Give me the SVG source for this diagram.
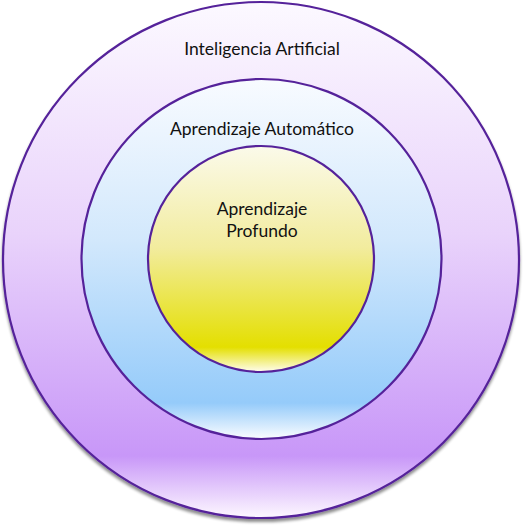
<svg xmlns="http://www.w3.org/2000/svg" width="527" height="527" viewBox="0 0 527 527">
  <defs>
    <linearGradient id="gOuter" x1="0" y1="0" x2="0" y2="1">
      <stop offset="0" stop-color="#fcf9ff"/>
      <stop offset="0.45" stop-color="#e9d3fb"/>
      <stop offset="0.88" stop-color="#c897f8"/>
      <stop offset="1" stop-color="#fdf8ff"/>
    </linearGradient>
    <linearGradient id="gMid" x1="0" y1="0" x2="0" y2="1">
      <stop offset="0" stop-color="#f8fbff"/>
      <stop offset="0.45" stop-color="#d2e8fc"/>
      <stop offset="0.9" stop-color="#95cbfa"/>
      <stop offset="1" stop-color="#fbfdff"/>
    </linearGradient>
    <linearGradient id="gIn" x1="0" y1="0" x2="0" y2="1">
      <stop offset="0" stop-color="#fbfaea"/>
      <stop offset="0.45" stop-color="#f2ec9e"/>
      <stop offset="0.89" stop-color="#e4df00"/>
      <stop offset="1" stop-color="#fffdf0"/>
    </linearGradient>
    <filter id="sh" x="-5%" y="-5%" width="110%" height="115%">
      <feGaussianBlur in="SourceAlpha" stdDeviation="1.5"/>
      <feOffset dy="2.5" result="b"/>
      <feComponentTransfer><feFuncA type="linear" slope="0.45"/></feComponentTransfer>
      <feMerge><feMergeNode/><feMergeNode in="SourceGraphic"/></feMerge>
    </filter>
  </defs>
  <style>
    circle { stroke: #55229a; stroke-width: 2.2; }
    text { font-family: Lato, "Noto Sans", "Liberation Sans", sans-serif; font-size: 17.5px; fill: #111; text-anchor: middle; }
  </style>
  <rect width="527" height="527" fill="#ffffff"/>
  <g id="ia">
    <circle cx="261" cy="260" r="258" fill="url(#gOuter)" filter="url(#sh)"/>
    <text x="262" y="55">Inteligencia Artificial</text>
  </g>
  <g id="aa">
    <circle cx="261.5" cy="259" r="180" fill="url(#gMid)"/>
    <text x="262" y="135">Aprendizaje Automático</text>
  </g>
  <g id="ap">
    <circle cx="261" cy="259" r="113" fill="url(#gIn)"/>
    <text x="262" y="215">Aprendizaje</text>
    <text x="262" y="237">Profundo</text>
  </g>
  <g id="connectors"/>
</svg>
